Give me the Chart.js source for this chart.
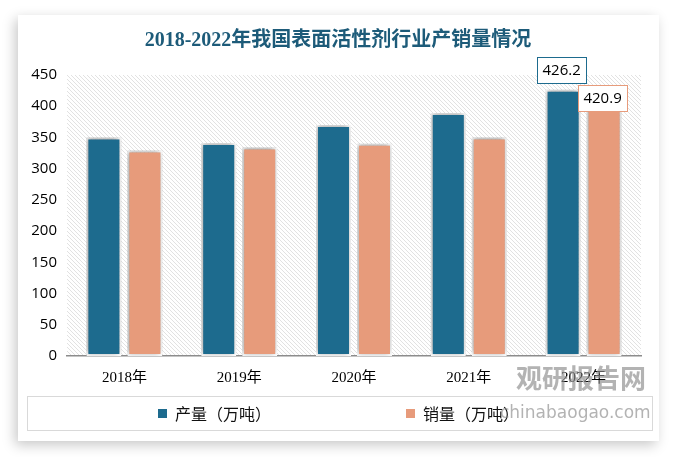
<!DOCTYPE html>
<html>
<head>
<meta charset="utf-8">
<script src="https://cdn.jsdelivr.net/npm/chart.js@4.4.1/dist/chart.umd.min.js"></script>
<style>
  html,body{margin:0;padding:0;background:#fff;}
  #wrap{position:relative;width:677px;height:457px;overflow:hidden;}
  #card{position:absolute;left:18px;top:15px;width:641px;height:426px;background:#fff;
        box-shadow:-3px 4px 12px rgba(0,0,0,0.22);}
  #c{position:absolute;left:0;top:0;}
</style>
</head>
<body>
<div id="wrap">
  <div id="card"></div>
  <canvas id="c" width="677" height="457"></canvas>
</div>
<script>
const years=['2018年','2019年','2020年','2021年','2022年'];
const production=[350,341,370,389,426.2];
const sales=[329,334,340,350,420.9];
const seriesNames=['产量（万吨）','销量（万吨）'];
const colors=['#1d6b8e','#e79b7b'];

const cjk='"Noto Sans CJK SC", sans-serif';

// hatched background for the plot area
function hatch(){
  const p=document.createElement('canvas');
  p.width=4;p.height=4;
  const g=p.getContext('2d');
  g.fillStyle='#ffffff';g.fillRect(0,0,4,4);
  g.fillStyle='#e2e2e2';
  for(let i=0;i<4;i++){g.fillRect(i,i,1,1);}
  return g.createPattern(p,'repeat');
}

const bgPlugin={
  id:'bg',
  beforeDraw(chart){
    const {ctx,chartArea:a}=chart;
    ctx.save();
    ctx.fillStyle=hatch();
    ctx.fillRect(a.left,a.top,a.right-a.left,a.bottom-a.top);
    // title
    ctx.fillStyle='#1d5b79';
    ctx.font='bold 20px "Liberation Serif", "Noto Sans CJK SC", serif';
    ctx.textAlign='center';ctx.textBaseline='middle';
    ctx.fillText('2018-2022年我国表面活性剂行业产销量情况',338,41);
    // legend
    ctx.strokeStyle='#d9d9d9';ctx.lineWidth=1;
    ctx.strokeRect(27.5,396.5,625,34);
    ctx.font='16px '+cjk;ctx.textAlign='left';
    const xs=[158,406];
    chart.data.datasets.forEach((ds,i)=>{
      ctx.fillStyle=ds.backgroundColor;
      ctx.fillRect(xs[i],409,9,9);
      ctx.fillStyle='#111';
      ctx.fillText(ds.label,xs[i]+17,414);
    });
    ctx.restore();
  },
  beforeDatasetsDraw(chart){
    const ctx=chart.ctx;
    ctx.save();
    ctx.shadowColor='rgba(0,0,0,0.4)';
    ctx.shadowBlur=6;
    ctx.shadowOffsetX=-1;
    ctx.shadowOffsetY=-1;
  },
  afterDatasetsDraw(chart){
    const ctx=chart.ctx;
    ctx.restore();
    ctx.save();
    ctx.font='15px "Open Sans", sans-serif';
    ctx.textAlign='center';ctx.textBaseline='middle';
    const last=years.length-1;
    chart.data.datasets.forEach((ds,i)=>{
      const bar=chart.getDatasetMeta(i).data[last];
      const txt=String(ds.data[last]);
      const w=49,h=26;
      const cx=bar.x-1.5;
      const cy=i===0?bar.y-20:bar.y+5;
      ctx.fillStyle='#fff';
      ctx.fillRect(cx-w/2,cy-h/2,w,h);
      ctx.strokeStyle=ds.backgroundColor;ctx.lineWidth=1;
      ctx.strokeRect(Math.round(cx-w/2)+0.5,Math.round(cy-h/2)+0.5,w,h);
      ctx.fillStyle='#000';
      ctx.fillText(txt,cx,cy+1);
    });
    ctx.restore();
  },
  afterDraw(chart){
    // watermark
    const ctx=chart.ctx;
    ctx.save();
    ctx.globalAlpha=0.65;
    ctx.fillStyle='#8a8a8a';
    ctx.textBaseline='middle';ctx.textAlign='left';
    ctx.font='bold 26px '+cjk;
    ctx.fillText('观研报告网',516,378);
    ctx.font='17px "DejaVu Sans", sans-serif';
    ctx.fillText('chinabaogao.com',500,414);
    ctx.restore();
  }
};

new Chart(document.getElementById('c'),{
  type:'bar',
  data:{
    labels:years,
    datasets:[
      {label:seriesNames[0],data:production,backgroundColor:colors[0],borderColor:'#fff',borderWidth:2,borderSkipped:false},
      {label:seriesNames[1],data:sales,backgroundColor:colors[1],borderColor:'#fff',borderWidth:2,borderSkipped:false}
    ]
  },
  options:{
    responsive:false,
    animation:false,
    datasets:{bar:{categoryPercentage:0.714,barPercentage:0.854}},
    layout:{padding:{top:75,right:36,bottom:71,left:0}},
    plugins:{legend:{display:false},tooltip:{enabled:false},title:{display:false}},
    scales:{
      x:{
        grid:{display:false},
        border:{color:'#8c8c8c',width:1.5},
        ticks:{color:'#000',font:{family:'"Liberation Serif", "Noto Sans CJK SC", serif',size:15},padding:5},
        afterFit(s){s.height=30;}
      },
      y:{
        min:0,max:450,
        grid:{display:false},
        border:{display:false},
        ticks:{stepSize:50,color:'#000',font:{family:'"Open Sans", sans-serif',size:15},padding:2},
        afterFit(s){s.width=67;}
      }
    }
  },
  plugins:[bgPlugin]
});
</script>
</body>
</html>
